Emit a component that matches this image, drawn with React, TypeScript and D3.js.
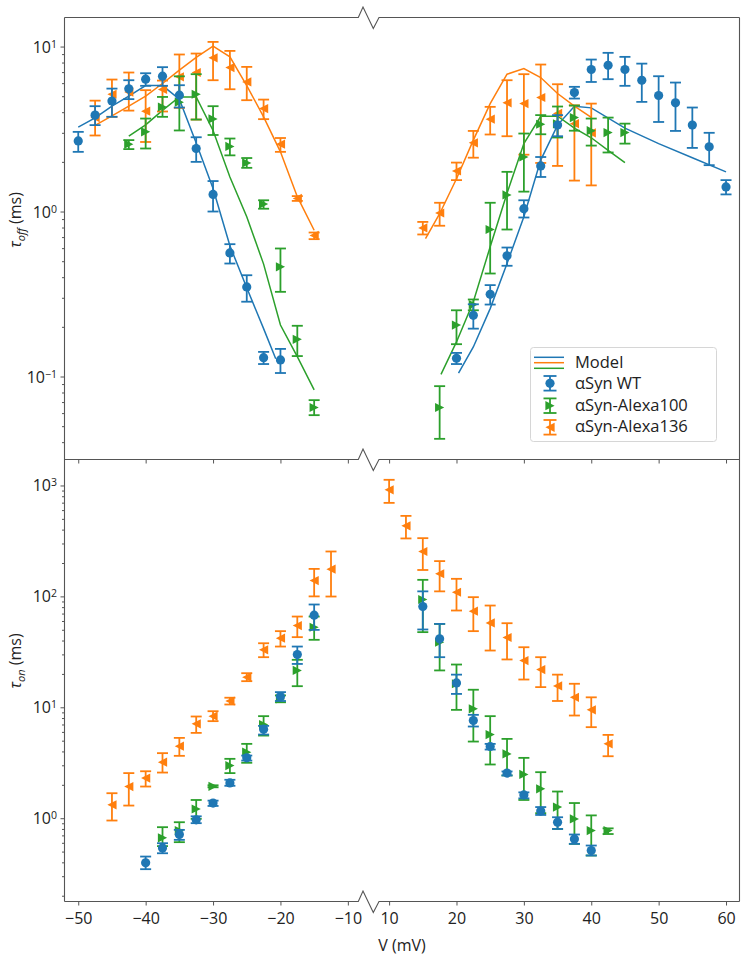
import React, { useEffect, useRef } from "react";
import * as d3 from "d3";

// each row: [V (mV), tau (ms), lower error, upper error]
const offWT = [
  [-50, 2.68, 2.3, 3.04], [-47.5, 3.84, 3.34, 4.35], [-45, 4.67, 3.75, 5.56], [-42.5, 5.54, 4.8, 6.25],
  [-40, 6.34, 5.78, 6.89], [-37.5, 6.61, 5.78, 7.5], [-35, 5.07, 4.27, 5.83], [-32.5, 2.41, 2.0, 2.82],
  [-30, 1.27, 1.0, 1.53], [-27.5, 0.561, 0.484, 0.634], [-25, 0.349, 0.284, 0.411], [-22.5, 0.13, 0.119, 0.141],
  [-20, 0.126, 0.105, 0.147],
  [20, 0.129, 0.119, 0.139], [22.5, 0.235, 0.195, 0.274], [25, 0.315, 0.273, 0.358], [27.5, 0.539, 0.469, 0.605],
  [30, 1.04, 0.92, 1.17], [32.5, 1.89, 1.62, 2.14], [35, 3.34, 2.86, 3.84], [37.5, 5.26, 4.84, 5.7],
  [40, 7.26, 6.1, 8.34], [42.5, 7.7, 6.34, 9.16], [45, 7.26, 5.78, 8.66], [47.5, 6.25, 4.62, 7.88],
  [50, 5.05, 3.49, 6.61], [52.5, 4.56, 3.08, 6.05], [55, 3.34, 2.43, 4.27], [57.5, 2.47, 1.91, 3.0],
  [60, 1.41, 1.27, 1.55],
];
const offA100 = [
  [-42.5, 2.56, 2.39, 2.71], [-40, 3.04, 2.41, 3.66], [-37.5, 4.3, 3.75, 4.95], [-35, 4.6, 3.1, 6.6],
  [-32.5, 5.14, 3.61, 6.8], [-30, 3.64, 2.91, 4.35], [-27.5, 2.48, 2.19, 2.77], [-25, 1.97, 1.84, 2.11],
  [-22.5, 1.11, 1.04, 1.17], [-20, 0.462, 0.326, 0.597], [-17.5, 0.168, 0.133, 0.203], [-15, 0.0649, 0.0583, 0.0719],
  [17.5, 0.0649, 0.0419, 0.0874], [20, 0.205, 0.157, 0.252], [22.5, 0.273, 0.252, 0.293], [25, 0.778, 0.421, 1.13],
  [27.5, 1.26, 0.778, 1.74], [30, 2.14, 1.32, 2.97], [32.5, 3.38, 2.94, 3.84], [35, 3.4, 2.81, 4.33],
  [37.5, 3.71, 3.09, 4.39], [40, 3.09, 2.51, 3.66], [42.5, 3.01, 2.28, 3.71], [45, 3.01, 2.58, 3.41],
];
const offA136 = [
  [-47.5, 3.71, 2.89, 4.7], [-45, 5.14, 3.75, 6.31], [-42.5, 5.3, 4.09, 6.96], [-40, 4.06, 2.64, 5.44],
  [-37.5, 5.5, 4.04, 6.22], [-35, 6.55, 4.25, 8.95], [-32.5, 6.96, 3.61, 9.07], [-30, 8.54, 6.25, 10.67],
  [-27.5, 7.46, 5.51, 9.41], [-25, 6.1, 4.73, 7.53], [-22.5, 4.21, 3.63, 4.77], [-20, 2.56, 2.3, 2.79],
  [-17.5, 1.2, 1.16, 1.24], [-15, 0.716, 0.68, 0.746],
  [15, 0.796, 0.726, 0.865], [17.5, 0.98, 0.82, 1.13], [20, 1.76, 1.55, 1.98], [22.5, 2.61, 2.12, 3.08],
  [25, 3.63, 2.93, 4.31], [27.5, 4.56, 2.86, 6.25], [30, 4.51, 2.21, 6.8], [32.5, 4.91, 1.97, 7.78],
  [35, 3.93, 1.89, 5.91], [37.5, 3.41, 1.54, 4.4], [40, 3.0, 1.44, 4.51],
];

// model curves for tau_off: [V, tau]
const modelWT = [
  [-50, 3.25], [-47.5, 3.7], [-45, 4.35], [-42.5, 5.0], [-40, 5.8], [-37.5, 5.8], [-35, 4.8], [-32.5, 2.6],
  [-30, 1.38], [-27.5, 0.62], [-25, 0.345], [-22.5, 0.195], [-20.7, 0.128],
  [20.3, 0.105], [22.5, 0.151], [25, 0.258], [27.5, 0.484], [30, 0.93], [32.5, 2.05], [35, 3.34],
  [37.5, 4.35], [40, 4.25], [45, 3.2], [50, 2.58], [55, 2.12], [60, 1.74],
];
const modelA100 = [
  [-42.5, 2.86], [-40, 3.35], [-37.5, 4.1], [-35, 4.95], [-32.5, 4.95], [-30, 3.1], [-27.5, 1.62],
  [-25, 0.93], [-22.5, 0.48], [-20, 0.205], [-17.5, 0.132], [-15, 0.083],
  [17.7, 0.103], [20, 0.162], [22.5, 0.284], [25, 0.611], [27.5, 1.29], [30, 2.58], [32.5, 3.78],
  [35, 3.78], [37.5, 3.2], [40, 2.8], [42.5, 2.35], [45, 1.98],
];
const modelA136 = [
  [-47.5, 3.33], [-45, 3.8], [-42.5, 4.35], [-40, 5.0], [-37.5, 5.97], [-35, 7.2], [-32.5, 8.6],
  [-30, 10.05], [-27.5, 8.66], [-25, 5.8], [-22.5, 3.75], [-20, 2.3], [-17.5, 1.23], [-15, 0.77],
  [15.4, 0.686], [17.5, 0.97], [20, 1.58], [22.5, 2.71], [25, 4.51], [27.5, 6.8], [30, 7.35],
  [32.5, 6.49], [35, 5.19], [37.5, 4.35], [40, 3.72],
];

const onWT = [
  [-40, 0.396, 0.347, 0.451], [-37.5, 0.54, 0.483, 0.595], [-35, 0.713, 0.638, 0.785], [-32.5, 0.966, 0.902, 1.04],
  [-30, 1.37, 1.29, 1.44], [-27.5, 2.08, 1.96, 2.22], [-25, 3.5, 3.31, 3.67], [-22.5, 6.35, 5.68, 6.8],
  [-20, 12.5, 11.4, 13.7], [-17.5, 29.9, 24.6, 35.3], [-15, 67.7, 49.9, 84.5],
  [15, 81.1, 50.3, 111], [17.5, 41.4, 28.3, 56.5], [20, 16.6, 13.2, 19.7], [22.5, 7.6, 6.71, 8.55],
  [25, 4.43, 4.16, 4.68], [27.5, 2.55, 2.43, 2.64], [30, 1.62, 1.51, 1.71], [32.5, 1.16, 1.07, 1.26],
  [35, 0.92, 0.8, 1.02], [37.5, 0.651, 0.587, 0.713], [40, 0.511, 0.461, 0.567],
];
const onA100 = [
  [-37.5, 0.665, 0.56, 0.83], [-35, 0.774, 0.608, 0.92], [-32.5, 1.21, 0.987, 1.46], [-30, 1.94, 1.9, 1.98],
  [-27.5, 2.98, 2.55, 3.43], [-25, 3.94, 3.16, 4.68], [-22.5, 6.99, 5.56, 8.32], [-20, 11.9, 11.1, 12.8],
  [-17.5, 21.5, 15.5, 26.8], [-15, 52.7, 40.6, 65.8],
  [15, 93.7, 47.6, 141], [17.5, 38.6, 21.5, 56.5], [20, 16.3, 9.48, 24.3], [22.5, 9.68, 4.91, 14.4],
  [25, 5.68, 3.05, 8.32], [27.5, 3.8, 2.43, 5.19], [30, 2.48, 1.46, 3.5], [32.5, 1.84, 1.11, 2.6],
  [35, 1.26, 0.8, 1.74], [37.5, 0.986, 0.587, 1.37], [40, 0.774, 0.461, 1.06], [42.5, 0.774, 0.72, 0.81],
];
const onA136 = [
  [-45, 1.32, 0.953, 1.68], [-42.5, 1.93, 1.3, 2.55], [-40, 2.3, 1.93, 2.65], [-37.5, 3.2, 2.58, 3.86],
  [-35, 4.46, 3.65, 5.3], [-32.5, 7.09, 5.88, 8.26], [-30, 8.32, 7.5, 9.22], [-27.5, 11.4, 10.6, 12.2],
  [-25, 18.7, 17.2, 20.3], [-22.5, 33.0, 28.3, 37.8], [-20, 42.0, 35.3, 48.6], [-17.5, 54.6, 42.9, 65.8],
  [-15, 139, 100, 177], [-12.5, 176, 99.7, 254],
  [10, 913, 697, 1125], [12.5, 433, 333, 532], [15, 254, 173, 335], [17.5, 160, 111, 208],
  [20, 109, 74.6, 144], [22.5, 73.5, 48.6, 98.4], [25, 57.7, 32.5, 82.7], [27.5, 42.6, 27.0, 57.3],
  [30, 26.4, 17.8, 34.8], [32.5, 21.9, 15.2, 28.3], [35, 15.6, 11.4, 19.7], [37.5, 12.3, 8.43, 16.3],
  [40, 9.48, 6.62, 12.3], [42.5, 4.68, 3.62, 5.64],
];

const xTicks = [-50, -40, -30, -20, -10, 10, 20, 30, 40, 50, 60];
const legendLabels = ["Model", "αSyn WT", "αSyn-Alexa100", "αSyn-Alexa136"];

const BLUE = "#1f77b4";
const ORANGE = "#ff7f0e";
const GREEN = "#2ca02c";
const SPINE = "#555";
const FONT = "'Open Sans', sans-serif";

const R = 4.6;
const markerPath = (shape: string) => {
  if (shape === "o") return d3.symbol(d3.symbolCircle, Math.PI * R * R)();
  if (shape === ">") return `M${-R},${-R}L${R},0L${-R},${R}Z`;
  return `M${R},${-R}L${-R},0L${R},${R}Z`;
};

const sup = (e: number) => (e < 0 ? "\u2212" + -e : String(e));

export default function App() {
  const ref = useRef<SVGSVGElement>(null);

  useEffect(() => {
    const svg = d3.select(ref.current);
    svg.selectAll("*").remove();
    svg.attr("font-family", FONT);

    const left = 64.5, right = 739.5;
    const x = d3.scaleLinear().domain([-52.04, -8.45, 8.5, 62]).range([left, 358.3, 379, right]);

    const panels = [
      {
        y: d3.scaleLog().domain([0.0314, 15.0]).range([459.5, 17.5]),
        top: 17.5, bottom: 459.5, decades: [-1, 0, 1],
        series: [[offA136, ORANGE, "<"], [offA100, GREEN, ">"], [offWT, BLUE, "o"]],
        models: [[modelWT, BLUE], [modelA136, ORANGE], [modelA100, GREEN]],
        sub: "off", labelY: 220,
      },
      {
        y: d3.scaleLog().domain([0.1774, 1715]).range([901.5, 459.5]),
        top: 459.5, bottom: 901.5, decades: [0, 1, 2, 3],
        series: [[onA136, ORANGE, "<"], [onA100, GREEN, ">"], [onWT, BLUE, "o"]],
        models: [],
        sub: "on", labelY: 661,
      },
    ];

    panels.forEach((p: any) => {
      const y = p.y;
      const g = svg.append("g");

      // minor + major y ticks
      const [d0, d1] = y.domain();
      const minors: number[] = [];
      for (let e = -3; e <= 4; e++)
        for (let m = 2; m <= 9; m++) {
          const v = m * Math.pow(10, e);
          if (v > d0 && v < d1) minors.push(v);
        }
      const minorAx = g.append("g").attr("transform", `translate(${left},0)`)
        .call(d3.axisLeft(y).tickValues(minors).tickSize(2.5).tickFormat(() => ""));
      minorAx.select(".domain").remove();
      minorAx.selectAll("line").attr("stroke", SPINE);
      const majorAx = g.append("g").attr("transform", `translate(${left},0)`)
        .call(d3.axisLeft(y).tickValues(p.decades.map((e: number) => Math.pow(10, e))).tickSize(4).tickFormat(() => ""));
      majorAx.select(".domain").remove();
      majorAx.selectAll("line").attr("stroke", SPINE);

      const lab = g.append("g").selectAll("text").data(p.decades).enter().append("text")
        .attr("x", 57).attr("y", (e: number) => y(Math.pow(10, e)) + 6)
        .attr("text-anchor", "end").attr("font-size", 16).attr("fill", "#222");
      lab.append("tspan").text("10");
      lab.append("tspan").attr("dy", -5).attr("font-size", 10.5).text((e: number) => sup(e));

      // x ticks under the panel
      const xAx = g.append("g").attr("transform", `translate(0,${p.bottom})`)
        .call(d3.axisBottom(x).tickValues(xTicks).tickSize(4).tickPadding(7)
          .tickFormat((d: any) => (p.sub === "on" ? (d < 0 ? "\u2212" + -d : String(d)) : "")));
      xAx.select(".domain").remove();
      xAx.selectAll("line").attr("stroke", SPINE);
      xAx.selectAll("text").attr("font-size", 16).attr("fill", "#222").attr("font-family", FONT);

      // y label
      const yl = g.append("text").attr("transform", `translate(21,${p.labelY}) rotate(-90)`)
        .attr("text-anchor", "middle").attr("font-size", 16).attr("fill", "#222");
      yl.append("tspan").attr("font-style", "italic").text("τ");
      yl.append("tspan").attr("font-style", "italic").attr("font-size", 11).attr("dy", 4).text(p.sub);
      yl.append("tspan").attr("dy", -4).text(" (ms)");

      // model lines
      const line = d3.line<number[]>().x((d) => x(d[0])).y((d) => y(d[1]));
      p.models.forEach(([data, color]: any) => {
        [data.filter((d: number[]) => d[0] < 0), data.filter((d: number[]) => d[0] > 0)].forEach((part) => {
          g.append("path").datum(part).attr("d", line).attr("fill", "none")
            .attr("stroke", color).attr("stroke-width", 1.5);
        });
      });

      // data with error bars
      p.series.forEach(([data, color, shape]: any) => {
        const s = g.append("g").attr("stroke", color).attr("stroke-width", 1.8);
        s.selectAll(".bar").data(data).enter().append("line")
          .attr("x1", (d: any) => x(d[0])).attr("x2", (d: any) => x(d[0]))
          .attr("y1", (d: any) => y(d[2])).attr("y2", (d: any) => y(d[3]));
        [2, 3].forEach((k) => {
          s.selectAll(".cap" + k).data(data).enter().append("line")
            .attr("x1", (d: any) => x(d[0]) - 5.5).attr("x2", (d: any) => x(d[0]) + 5.5)
            .attr("y1", (d: any) => y(d[k])).attr("y2", (d: any) => y(d[k]));
        });
        g.append("g").selectAll("path").data(data).enter().append("path")
          .attr("d", markerPath(shape)).attr("fill", color)
          .attr("transform", (d: any) => `translate(${x(d[0])},${y(d[1])})`);
      });
    });

    // frame with axis-break zigzags
    const hSpine = (yy: number) =>
      `M${left},${yy}H358.3L363,${yy - 10.5}L373.3,${yy + 11}L379,${yy}H${right}`;
    const frame = svg.append("g").attr("fill", "none").attr("stroke", SPINE).attr("stroke-width", 1.1);
    [17.5, 459.5, 901.5].forEach((yy) => frame.append("path").attr("d", hSpine(yy)));
    frame.append("line").attr("x1", left).attr("x2", left).attr("y1", 17.5).attr("y2", 901.5);
    frame.append("line").attr("x1", right).attr("x2", right).attr("y1", 17.5).attr("y2", 901.5);

    // x label
    svg.append("text").attr("x", 402).attr("y", 951).attr("text-anchor", "middle")
      .attr("font-size", 16).attr("fill", "#222").text("V (mV)");

    // legend
    const lg = svg.append("g");
    lg.append("rect").attr("x", 530.5).attr("y", 347.5).attr("width", 186).attr("height", 94)
      .attr("rx", 3).attr("fill", "white").attr("fill-opacity", 0.85).attr("stroke", "#d6d6d6");
    [[BLUE, 357.3], [ORANGE, 362.7], [GREEN, 368.3]].forEach(([c, yy]: any) => {
      lg.append("line").attr("x1", 534).attr("x2", 564).attr("y1", yy).attr("y2", yy)
        .attr("stroke", c).attr("stroke-width", 1.5);
    });
    [[BLUE, "o", 383.3], [GREEN, ">", 405.7], [ORANGE, "<", 427.3]].forEach(([c, shape, yy]: any) => {
      const h = lg.append("g").attr("stroke", c).attr("stroke-width", 1.8);
      h.append("line").attr("x1", 550).attr("x2", 550).attr("y1", yy - 7.3).attr("y2", yy + 7.3);
      h.append("line").attr("x1", 543.5).attr("x2", 556.5).attr("y1", yy - 7.3).attr("y2", yy - 7.3);
      h.append("line").attr("x1", 543.5).attr("x2", 556.5).attr("y1", yy + 7.3).attr("y2", yy + 7.3);
      lg.append("path").attr("d", markerPath(shape)).attr("fill", c)
        .attr("transform", `translate(550,${yy})`);
    });
    lg.selectAll(".lt").data(legendLabels).enter().append("text")
      .attr("x", 575).attr("y", (_d, i) => [367.5, 389, 410.5, 432][i])
      .attr("font-size", 16.5).attr("fill", "#222").text((d) => d);
  }, []);

  return (
    <svg
      ref={ref}
      width={744}
      height={960}
      style={{ position: "absolute", left: 0, top: 0, background: "#fff" }}
    ></svg>
  );
}
